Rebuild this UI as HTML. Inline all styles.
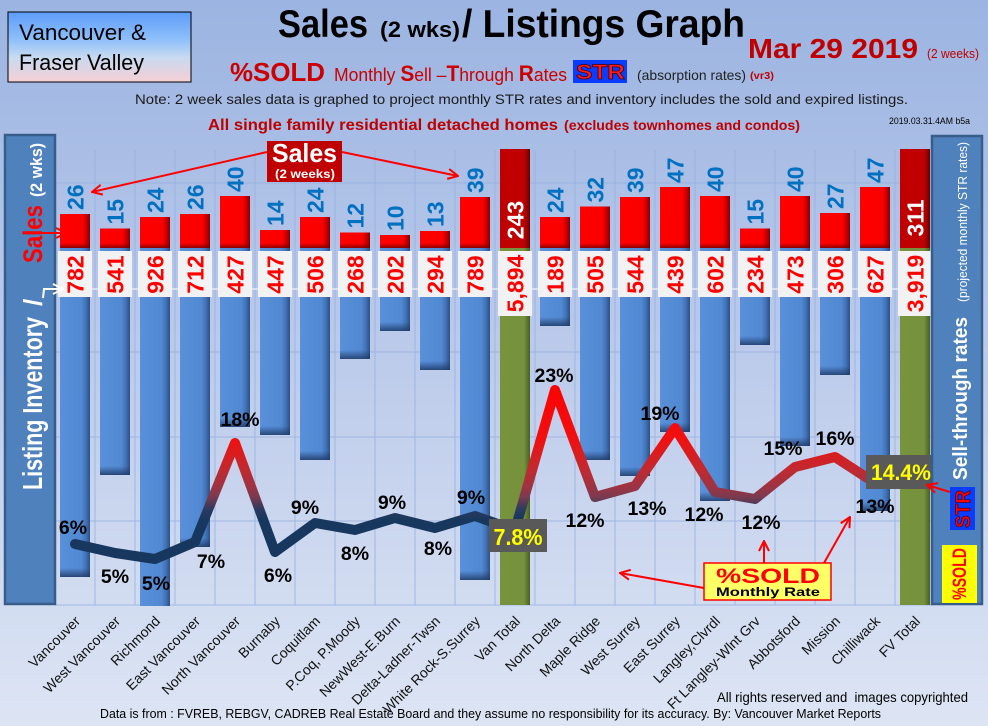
<!DOCTYPE html>
<html><head><meta charset="utf-8"><style>
html,body{margin:0;padding:0;background:#c0cdeb;}
svg{display:block;font-family:"Liberation Sans",sans-serif;}
</style></head><body>
<svg width="988" height="726" viewBox="0 0 988 726" xmlns="http://www.w3.org/2000/svg">
<defs>
<linearGradient id="bg" x1="0" y1="0" x2="0" y2="1">
<stop offset="0" stop-color="#9bb4e1"/><stop offset="0.45" stop-color="#bac9ea"/><stop offset="1" stop-color="#dde5f4"/>
</linearGradient>
<linearGradient id="hb" x1="0" y1="0" x2="0" y2="1">
<stop offset="0" stop-color="#5e9cfa"/><stop offset="0.4" stop-color="#8fc0fa"/><stop offset="0.65" stop-color="#c8daf0"/><stop offset="1" stop-color="#f7cfd6"/>
</linearGradient>
<linearGradient id="gB" x1="0" y1="0" x2="1" y2="0">
<stop offset="0" stop-color="#5a90da"/><stop offset="0.72" stop-color="#5088d2"/><stop offset="0.88" stop-color="#3f6fb0"/><stop offset="1" stop-color="#2c4f85"/>
</linearGradient>
<linearGradient id="gR" x1="0" y1="0" x2="1" y2="0">
<stop offset="0" stop-color="#ff0000"/><stop offset="0.75" stop-color="#fa0000"/><stop offset="0.9" stop-color="#c00000"/><stop offset="1" stop-color="#800000"/>
</linearGradient>
<linearGradient id="gD" x1="0" y1="0" x2="1" y2="0">
<stop offset="0" stop-color="#c00000"/><stop offset="0.8" stop-color="#c00000"/><stop offset="1" stop-color="#6a0000"/>
</linearGradient>
<linearGradient id="gG" x1="0" y1="0" x2="1" y2="0">
<stop offset="0" stop-color="#77933c"/><stop offset="0.8" stop-color="#76923c"/><stop offset="1" stop-color="#4a5e24"/>
</linearGradient>
<linearGradient id="shB" x1="0" y1="0" x2="0" y2="1">
<stop offset="0" stop-color="#1f3a66" stop-opacity="0"/><stop offset="1" stop-color="#1f3a66" stop-opacity="0.85"/>
</linearGradient>
<linearGradient id="shR" x1="0" y1="0" x2="0" y2="1">
<stop offset="0" stop-color="#700000" stop-opacity="0"/><stop offset="1" stop-color="#700000" stop-opacity="0.8"/>
</linearGradient>
<linearGradient id="gl" gradientUnits="userSpaceOnUse" x1="0" y1="380" x2="0" y2="560">
<stop offset="0" stop-color="#ff0000"/><stop offset="0.33" stop-color="#f01010"/><stop offset="0.5" stop-color="#c02a30"/><stop offset="0.6" stop-color="#9a3444"/><stop offset="0.65" stop-color="#7a3a50"/><stop offset="0.72" stop-color="#2a3a60"/><stop offset="0.78" stop-color="#17375e"/><stop offset="1" stop-color="#17375e"/>
</linearGradient>
<marker id="ar" viewBox="0 0 12 12" refX="11" refY="6" markerWidth="12" markerHeight="12" orient="auto" markerUnits="userSpaceOnUse"><path d="M1,1 L11,6 L1,11" fill="none" stroke="#ff0000" stroke-width="2"/></marker>
<marker id="aw" viewBox="0 0 12 12" refX="11" refY="6" markerWidth="12" markerHeight="12" orient="auto" markerUnits="userSpaceOnUse"><path d="M1,1 L11,6 L1,11" fill="none" stroke="#ffffff" stroke-width="2"/></marker>
</defs>

<rect x="0" y="0" width="988" height="726" fill="url(#bg)"/>

<!-- header -->
<rect x="8" y="12" width="183" height="70" fill="url(#hb)" stroke="#000" stroke-width="1"/>
<text x="19" y="40" font-size="22" textLength="127" lengthAdjust="spacingAndGlyphs">Vancouver &amp;</text>
<text x="19" y="70" font-size="22" textLength="125" lengthAdjust="spacingAndGlyphs">Fraser Valley</text>

<text x="278" y="37" font-size="39" font-weight="bold" textLength="90" lengthAdjust="spacingAndGlyphs">Sales</text>
<text x="380" y="37" font-size="22" font-weight="bold" textLength="80" lengthAdjust="spacingAndGlyphs">(2 wks)</text>
<text x="462" y="37" font-size="39" font-weight="bold" textLength="283" lengthAdjust="spacingAndGlyphs">/ Listings Graph</text>

<text x="748" y="58" font-size="28" font-weight="bold" fill="#c00000" textLength="170" lengthAdjust="spacingAndGlyphs">Mar 29 2019</text>
<text x="927" y="58" font-size="12.5" fill="#c00000" textLength="52" lengthAdjust="spacingAndGlyphs">(2 weeks)</text>

<text x="230" y="81" font-size="26" font-weight="bold" fill="#cc0000" textLength="95" lengthAdjust="spacingAndGlyphs">%SOLD</text>
<text x="334" y="81" font-size="18.5" fill="#cc0000" textLength="233" lengthAdjust="spacingAndGlyphs">Monthly <tspan font-weight="bold" font-size="22">S</tspan>ell –<tspan font-weight="bold" font-size="22">T</tspan>hrough <tspan font-weight="bold" font-size="22">R</tspan>ates</text>
<rect x="573" y="60" width="54" height="23" fill="#0a3cff"/>
<text x="576" y="79" font-size="21" font-weight="bold" fill="#ff1a1a" stroke="#400000" stroke-width="0.7" textLength="49" lengthAdjust="spacingAndGlyphs">STR</text>
<text x="637" y="80" font-size="14" fill="#222" textLength="109" lengthAdjust="spacingAndGlyphs">(absorption rates)</text>
<text x="750" y="79" font-size="10" font-weight="bold" fill="#c00000" textLength="24" lengthAdjust="spacingAndGlyphs">(vr3)</text>

<text x="135" y="104" font-size="13.5" fill="#1a1a1a" textLength="773" lengthAdjust="spacingAndGlyphs">Note: 2 week sales data is graphed to project monthly STR rates and inventory includes the sold and expired listings.</text>
<text x="208" y="130" font-size="16" font-weight="bold" fill="#c00000" textLength="350" lengthAdjust="spacingAndGlyphs">All single family residential detached homes</text>
<text x="564" y="130" font-size="14" font-weight="bold" fill="#c00000" textLength="236" lengthAdjust="spacingAndGlyphs">(excludes townhomes and condos)</text>
<text x="889" y="124" font-size="9.5" fill="#000" textLength="81" lengthAdjust="spacingAndGlyphs">2019.03.31.4AM b5a</text>

<!-- grid -->
<g stroke="#98b1e0" stroke-width="1" opacity="0.85">
<line x1="55" y1="183" x2="935" y2="183"/>
<line x1="55" y1="352" x2="935" y2="352"/>
<line x1="55" y1="437" x2="935" y2="437"/>
<line x1="55" y1="521" x2="935" y2="521"/>
<line x1="55" y1="605" x2="935" y2="605"/>
<line x1="95" y1="150" x2="95" y2="605"/><line x1="135" y1="150" x2="135" y2="605"/><line x1="175" y1="150" x2="175" y2="605"/><line x1="215" y1="150" x2="215" y2="605"/><line x1="255" y1="150" x2="255" y2="605"/><line x1="295" y1="150" x2="295" y2="605"/><line x1="335" y1="150" x2="335" y2="605"/><line x1="375" y1="150" x2="375" y2="605"/><line x1="415" y1="150" x2="415" y2="605"/><line x1="455" y1="150" x2="455" y2="605"/><line x1="495" y1="150" x2="495" y2="605"/><line x1="535" y1="150" x2="535" y2="605"/><line x1="575" y1="150" x2="575" y2="605"/><line x1="615" y1="150" x2="615" y2="605"/><line x1="655" y1="150" x2="655" y2="605"/><line x1="695" y1="150" x2="695" y2="605"/><line x1="735" y1="150" x2="735" y2="605"/><line x1="775" y1="150" x2="775" y2="605"/><line x1="815" y1="150" x2="815" y2="605"/><line x1="855" y1="150" x2="855" y2="605"/><line x1="895" y1="150" x2="895" y2="605"/><line x1="935" y1="150" x2="935" y2="605"/>
</g>
<line x1="55" y1="289" x2="935" y2="289" stroke="#e4ebf7" stroke-width="1.5"/>

<!-- blue inventory bars -->
<g fill="url(#gB)">
<rect x="60" y="248" width="30" height="329"/>
<rect x="100" y="248" width="30" height="227"/>
<rect x="140" y="248" width="30" height="358"/>
<rect x="180" y="248" width="30" height="299"/>
<rect x="220" y="248" width="30" height="179"/>
<rect x="260" y="248" width="30" height="187"/>
<rect x="300" y="248" width="30" height="212"/>
<rect x="340" y="248" width="30" height="111"/>
<rect x="380" y="248" width="30" height="83"/>
<rect x="420" y="248" width="30" height="122"/>
<rect x="460" y="248" width="30" height="332"/>
<rect x="540" y="248" width="30" height="78"/>
<rect x="580" y="248" width="30" height="212"/>
<rect x="620" y="248" width="30" height="228"/>
<rect x="660" y="248" width="30" height="184"/>
<rect x="700" y="248" width="30" height="253"/>
<rect x="740" y="248" width="30" height="97"/>
<rect x="780" y="248" width="30" height="198"/>
<rect x="820" y="248" width="30" height="127"/>
<rect x="860" y="248" width="30" height="263"/>
</g>
<g fill="url(#shB)">
<rect x="60" y="568" width="30" height="9"/>
<rect x="100" y="466" width="30" height="9"/>
<rect x="180" y="538" width="30" height="9"/>
<rect x="220" y="418" width="30" height="9"/>
<rect x="260" y="426" width="30" height="9"/>
<rect x="300" y="451" width="30" height="9"/>
<rect x="340" y="350" width="30" height="9"/>
<rect x="380" y="322" width="30" height="9"/>
<rect x="420" y="361" width="30" height="9"/>
<rect x="460" y="571" width="30" height="9"/>
<rect x="540" y="317" width="30" height="9"/>
<rect x="580" y="451" width="30" height="9"/>
<rect x="620" y="467" width="30" height="9"/>
<rect x="660" y="423" width="30" height="9"/>
<rect x="700" y="492" width="30" height="9"/>
<rect x="740" y="336" width="30" height="9"/>
<rect x="780" y="437" width="30" height="9"/>
<rect x="820" y="366" width="30" height="9"/>
<rect x="860" y="502" width="30" height="9"/>
</g>
<rect x="500" y="248" width="30" height="357" fill="url(#gG)"/>
<rect x="900" y="248" width="30" height="357" fill="url(#gG)"/>

<!-- red sales bars -->
<g fill="url(#gR)">
<rect x="60" y="214" width="30" height="34"/>
<rect x="100" y="228.5" width="30" height="19.5"/>
<rect x="140" y="217" width="30" height="31"/>
<rect x="180" y="214" width="30" height="34"/>
<rect x="220" y="196" width="30" height="52"/>
<rect x="260" y="230" width="30" height="18"/>
<rect x="300" y="217" width="30" height="31"/>
<rect x="340" y="232.5" width="30" height="15.5"/>
<rect x="380" y="235" width="30" height="13"/>
<rect x="420" y="231" width="30" height="17"/>
<rect x="460" y="197" width="30" height="51"/>
<rect x="540" y="217" width="30" height="31"/>
<rect x="580" y="206.5" width="30" height="41.5"/>
<rect x="620" y="197" width="30" height="51"/>
<rect x="660" y="187" width="30" height="61"/>
<rect x="700" y="196" width="30" height="52"/>
<rect x="740" y="228.5" width="30" height="19.5"/>
<rect x="780" y="196" width="30" height="52"/>
<rect x="820" y="213" width="30" height="35"/>
<rect x="860" y="187" width="30" height="61"/>
</g>
<g fill="url(#shR)">
<rect x="60" y="243" width="30" height="5"/><rect x="100" y="243" width="30" height="5"/><rect x="140" y="243" width="30" height="5"/><rect x="180" y="243" width="30" height="5"/><rect x="220" y="243" width="30" height="5"/><rect x="260" y="243" width="30" height="5"/><rect x="300" y="243" width="30" height="5"/><rect x="340" y="243" width="30" height="5"/><rect x="380" y="243" width="30" height="5"/><rect x="420" y="243" width="30" height="5"/><rect x="460" y="243" width="30" height="5"/><rect x="540" y="243" width="30" height="5"/><rect x="580" y="243" width="30" height="5"/><rect x="620" y="243" width="30" height="5"/><rect x="660" y="243" width="30" height="5"/><rect x="700" y="243" width="30" height="5"/><rect x="740" y="243" width="30" height="5"/><rect x="780" y="243" width="30" height="5"/><rect x="820" y="243" width="30" height="5"/><rect x="860" y="243" width="30" height="5"/>
</g>
<rect x="500" y="149" width="30" height="99" fill="url(#gD)"/>
<rect x="900" y="149" width="30" height="99" fill="url(#gD)"/>
<g font-size="23" font-weight="bold" fill="#ffffff" text-anchor="middle">
<text transform="translate(523.5,220) rotate(-90)">243</text>
<text transform="translate(923.5,218) rotate(-90)">311</text>
</g>

<!-- sales value labels -->
<g font-size="23" font-weight="bold" fill="#0070c0">
<text transform="translate(83.5,210) rotate(-90)">26</text>
<text transform="translate(123.5,224.5) rotate(-90)">15</text>
<text transform="translate(163.5,213) rotate(-90)">24</text>
<text transform="translate(203.5,210) rotate(-90)">26</text>
<text transform="translate(243.5,192) rotate(-90)">40</text>
<text transform="translate(283.5,226) rotate(-90)">14</text>
<text transform="translate(323.5,213) rotate(-90)">24</text>
<text transform="translate(363.5,228.5) rotate(-90)">12</text>
<text transform="translate(403.5,231) rotate(-90)">10</text>
<text transform="translate(443.5,227) rotate(-90)">13</text>
<text transform="translate(483.5,193) rotate(-90)">39</text>
<text transform="translate(563.5,213) rotate(-90)">24</text>
<text transform="translate(603.5,202.5) rotate(-90)">32</text>
<text transform="translate(643.5,193) rotate(-90)">39</text>
<text transform="translate(683.5,183) rotate(-90)">47</text>
<text transform="translate(723.5,192) rotate(-90)">40</text>
<text transform="translate(763.5,224.5) rotate(-90)">15</text>
<text transform="translate(803.5,192) rotate(-90)">40</text>
<text transform="translate(843.5,209) rotate(-90)">27</text>
<text transform="translate(883.5,183) rotate(-90)">47</text>
</g>

<!-- inventory label boxes -->
<g fill="#f2f2f2">
<rect x="58" y="251" width="34" height="46"/><rect x="98" y="251" width="34" height="46"/><rect x="138" y="251" width="34" height="46"/><rect x="178" y="251" width="34" height="46"/><rect x="218" y="251" width="34" height="46"/><rect x="258" y="251" width="34" height="46"/><rect x="298" y="251" width="34" height="46"/><rect x="338" y="251" width="34" height="46"/><rect x="378" y="251" width="34" height="46"/><rect x="418" y="251" width="34" height="46"/><rect x="458" y="251" width="34" height="46"/>
<rect x="498" y="251" width="34" height="65"/>
<rect x="538" y="251" width="34" height="46"/><rect x="578" y="251" width="34" height="46"/><rect x="618" y="251" width="34" height="46"/><rect x="658" y="251" width="34" height="46"/><rect x="698" y="251" width="34" height="46"/><rect x="738" y="251" width="34" height="46"/><rect x="778" y="251" width="34" height="46"/><rect x="818" y="251" width="34" height="46"/><rect x="858" y="251" width="34" height="46"/>
<rect x="898" y="251" width="34" height="65"/>
</g>
<g font-size="23" font-weight="bold" fill="#ff0000" text-anchor="middle">
<text transform="translate(83.5,274.5) rotate(-90)">782</text>
<text transform="translate(123.5,274.5) rotate(-90)">541</text>
<text transform="translate(163.5,274.5) rotate(-90)">926</text>
<text transform="translate(203.5,274.5) rotate(-90)">712</text>
<text transform="translate(243.5,274.5) rotate(-90)">427</text>
<text transform="translate(283.5,274.5) rotate(-90)">447</text>
<text transform="translate(323.5,274.5) rotate(-90)">506</text>
<text transform="translate(363.5,274.5) rotate(-90)">268</text>
<text transform="translate(403.5,274.5) rotate(-90)">202</text>
<text transform="translate(443.5,274.5) rotate(-90)">294</text>
<text transform="translate(483.5,274.5) rotate(-90)">789</text>
<text transform="translate(523.5,283.5) rotate(-90)">5,894</text>
<text transform="translate(563.5,274.5) rotate(-90)">189</text>
<text transform="translate(603.5,274.5) rotate(-90)">505</text>
<text transform="translate(643.5,274.5) rotate(-90)">544</text>
<text transform="translate(683.5,274.5) rotate(-90)">439</text>
<text transform="translate(723.5,274.5) rotate(-90)">602</text>
<text transform="translate(763.5,274.5) rotate(-90)">234</text>
<text transform="translate(803.5,274.5) rotate(-90)">473</text>
<text transform="translate(843.5,274.5) rotate(-90)">306</text>
<text transform="translate(883.5,274.5) rotate(-90)">627</text>
<text transform="translate(923.5,283.5) rotate(-90)">3,919</text>
</g>

<!-- STR line -->
<path d="M75,544 L115,553 L155,559 L195,542 L235,443 L275,552 L315,523 L355,530 L395,518 L435,528 L475,516 L515,530 L555,390 L595,497 L635,486 L675,428 L715,492 L755,499 L795,467 L835,457 L875,483 L915,472" fill="none" stroke="url(#gl)" stroke-width="10" stroke-linejoin="round" stroke-linecap="round"/>

<g font-size="19.5" font-weight="bold" fill="#000" text-anchor="middle">
<text x="73" y="534">6%</text>
<text x="115" y="583">5%</text>
<text x="156" y="590">5%</text>
<text x="211" y="568">7%</text>
<text x="240" y="426">18%</text>
<text x="278" y="582">6%</text>
<text x="305" y="514">9%</text>
<text x="355" y="560">8%</text>
<text x="392" y="509">9%</text>
<text x="438" y="555">8%</text>
<text x="471" y="504">9%</text>
<text x="554" y="382">23%</text>
<text x="585" y="527">12%</text>
<text x="647" y="515">13%</text>
<text x="660" y="420">19%</text>
<text x="704" y="521">12%</text>
<text x="761" y="529">12%</text>
<text x="783" y="455">15%</text>
<text x="835" y="445">16%</text>
<text x="875" y="513">13%</text>
</g>

<rect x="489" y="519" width="58" height="33" fill="#595959"/>
<text x="518" y="545" font-size="23" font-weight="bold" fill="#ffff00" text-anchor="middle" textLength="49" lengthAdjust="spacingAndGlyphs">7.8%</text>
<rect x="866" y="455" width="66" height="34" fill="#595959"/>
<text x="901" y="480" font-size="22" font-weight="bold" fill="#ffff00" text-anchor="middle" textLength="60" lengthAdjust="spacingAndGlyphs">14.4%</text>

<!-- left panel -->
<rect x="5" y="135" width="50" height="469" fill="#4f81bd" stroke="#385d8a" stroke-width="2.5"/>
<g font-weight="bold" fill="#ffffff">
<text transform="translate(42,490) rotate(-90)" font-size="28" textLength="173" lengthAdjust="spacingAndGlyphs">Listing Inventory</text>
<text transform="translate(42,306) rotate(-90)" font-size="26">/</text>
<text transform="translate(42,263) rotate(-90)" font-size="27" fill="#ff0000" textLength="58" lengthAdjust="spacingAndGlyphs">Sales</text>
<text transform="translate(42,197) rotate(-90)" font-size="17" textLength="54" lengthAdjust="spacingAndGlyphs">(2 wks)</text>
</g>
<line x1="41" y1="233" x2="66" y2="233" stroke="#ff0000" stroke-width="2" marker-end="url(#ar)"/>
<polyline points="43,298 44,289 63,289" fill="none" stroke="#ffffff" stroke-width="2" marker-end="url(#aw)"/>

<!-- right panel -->
<rect x="932" y="136" width="50" height="468" fill="#4f81bd" stroke="#385d8a" stroke-width="2.5"/>
<text transform="translate(967,302) rotate(-90)" font-size="12.5" fill="#ffffff" textLength="160" lengthAdjust="spacingAndGlyphs">(projected monthly STR rates)</text>
<text transform="translate(967,480) rotate(-90)" font-size="20" font-weight="bold" fill="#ffffff" textLength="163" lengthAdjust="spacingAndGlyphs">Sell-through rates</text>
<rect x="950" y="487" width="25" height="43" fill="#0a3cff"/>
<text transform="translate(970,528) rotate(-90)" font-size="21" font-weight="bold" fill="#ff0000" stroke="#300000" stroke-width="0.6" textLength="38" lengthAdjust="spacingAndGlyphs">STR</text>
<rect x="942" y="545" width="35" height="58" fill="#ffff00"/>
<text transform="translate(966,600) rotate(-90)" font-size="19" font-weight="bold" fill="#ff0000" textLength="52" lengthAdjust="spacingAndGlyphs">%SOLD</text>
<line x1="950" y1="492" x2="927" y2="485" stroke="#ff0000" stroke-width="2" marker-end="url(#ar)"/>

<!-- sales callout -->
<line x1="267" y1="152" x2="92" y2="192" stroke="#ff0000" stroke-width="2" marker-end="url(#ar)"/>
<line x1="342" y1="152" x2="458" y2="176" stroke="#ff0000" stroke-width="2" marker-end="url(#ar)"/>
<rect x="267" y="141" width="75" height="41" fill="#c00000"/>
<text x="272" y="162" font-size="26" font-weight="bold" fill="#ffffff" textLength="65" lengthAdjust="spacingAndGlyphs">Sales</text>
<text x="275" y="178" font-size="12" font-weight="bold" fill="#ffffff" textLength="60" lengthAdjust="spacingAndGlyphs">(2 weeks)</text>

<!-- %SOLD legend -->
<line x1="704" y1="588" x2="620" y2="573" stroke="#ff0000" stroke-width="2" marker-end="url(#ar)"/>
<line x1="764" y1="563" x2="764" y2="541" stroke="#ff0000" stroke-width="2" marker-end="url(#ar)"/>
<line x1="824" y1="563" x2="850" y2="517" stroke="#ff0000" stroke-width="2" marker-end="url(#ar)"/>
<rect x="704" y="563" width="127" height="37" fill="#ffff66" stroke="#ff0000" stroke-width="1.5"/>
<text x="716" y="583" font-size="21" font-weight="900" fill="#ff0000" textLength="104" lengthAdjust="spacingAndGlyphs">%SOLD</text>
<text x="716" y="596" font-size="11.5" font-weight="bold" fill="#000" textLength="104" lengthAdjust="spacingAndGlyphs">Monthly Rate</text>

<!-- category labels -->
<g font-size="14" fill="#111" text-anchor="end">
<text transform="translate(81,622) rotate(-45)">Vancouver</text>
<text transform="translate(121,622) rotate(-45)">West Vancouver</text>
<text transform="translate(161,622) rotate(-45)">Richmond</text>
<text transform="translate(201,622) rotate(-45)">East Vancouver</text>
<text transform="translate(241,622) rotate(-45)">North Vancouver</text>
<text transform="translate(281,622) rotate(-45)">Burnaby</text>
<text transform="translate(321,622) rotate(-45)">Coquitlam</text>
<text transform="translate(361,622) rotate(-45)">P.Coq, P.Moody</text>
<text transform="translate(401,622) rotate(-45)">NewWest-E.Burn</text>
<text transform="translate(441,622) rotate(-45)">Delta-Ladner-Twsn</text>
<text transform="translate(481,622) rotate(-45)">White Rock-S.Surrey</text>
<text transform="translate(521,622) rotate(-45)">Van Total</text>
<text transform="translate(561,622) rotate(-45)">North Delta</text>
<text transform="translate(601,622) rotate(-45)">Maple Ridge</text>
<text transform="translate(641,622) rotate(-45)">West Surrey</text>
<text transform="translate(681,622) rotate(-45)">East Surrey</text>
<text transform="translate(721,622) rotate(-45)">Langley,Clvrdl</text>
<text transform="translate(761,622) rotate(-45)">Ft Langley-Wlnt Grv</text>
<text transform="translate(801,622) rotate(-45)">Abbotsford</text>
<text transform="translate(841,622) rotate(-45)">Mission</text>
<text transform="translate(881,622) rotate(-45)">Chilliwack</text>
<text transform="translate(921,622) rotate(-45)">FV Total</text>
</g>

<!-- footer -->
<text x="717" y="702" font-size="14" fill="#000" textLength="251" lengthAdjust="spacingAndGlyphs">All rights reserved and&#160; images copyrighted</text>
<text x="100" y="718" font-size="12.5" fill="#000" textLength="781" lengthAdjust="spacingAndGlyphs">Data is from : FVREB, REBGV, CADREB Real Estate Board and they assume no responsibility for its accuracy. By: Vancouver Market Reports</text>
</svg>
</body></html>
